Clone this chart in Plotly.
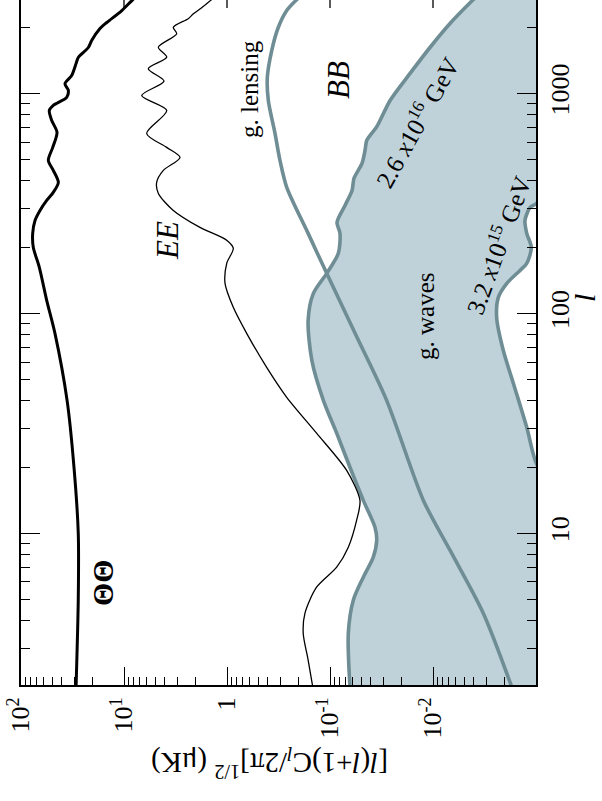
import math
import plotly.graph_objects as go

# ---------------- data (multipole l, amplitude in muK) ----------------
tt_l = [2, 5, 10, 20, 40.2, 81.1, 114.6, 161.9, 199.5, 231, 264.6, 293.8, 326.2, 354.8, 393.6,
        446.7, 495.9, 568.4, 664.8, 753.4, 837, 882, 959, 1032, 1109, 1207, 1368, 1458, 1618,
        1741, 1974, 2102, 2383, 2673, 3000]
tt_p = [29.2, 27.8, 27.8, 30.6, 35.7, 46.8, 56.3, 66.4, 76.0, 77.0, 73.1, 65.4, 56.3, 48.6, 43.4,
        48.6, 54.3, 49.2, 44.7, 50.3, 53.1, 48.6, 36.0, 34.7, 37.4, 32.2, 29.2, 27.8, 22.2,
        20.6, 17.1, 14.7, 10.5, 8.2, 6.25]

ee_l = [2, 2.65, 3.51, 4.33, 5.68, 7.01, 8.64, 11.46, 14.1, 19.3, 28.5, 41.5, 56.8, 81.1, 106.5,
        136.8, 168.7, 197.4, 214.6, 245.9, 293.8, 351, 393.6, 446.7, 511.7, 568.4, 657.7, 837,
        979, 1138, 1295, 1462, 1622, 1866, 2000, 2188, 2301, 2455, 2673, 3000]
ee_p = [0.147, 0.163, 0.182, 0.175, 0.135, 0.0861, 0.0664, 0.0551, 0.0512, 0.0689, 0.135, 0.263,
        0.412, 0.644, 0.869, 1.045, 1.006, 0.869, 1.0, 1.83, 3.32, 4.64, 4.82, 4.15, 2.86, 3.85,
        6.02, 3.85, 6.73, 4.09, 5.81, 3.85, 4.64, 3.08, 3.32, 2.38, 2.12, 1.76, 1.41, 1.12]

lens_l = [2, 4.33, 8.37, 14.1, 40.2, 81.1, 152, 231, 374, 496, 658, 929, 1183, 1567, 1995,
          2383, 2673, 3000]
lens_p = [0.00172, 0.00325, 0.00684, 0.0124, 0.0282, 0.0571, 0.1076, 0.163, 0.263, 0.306, 0.342,
          0.397, 0.406, 0.368, 0.318, 0.263, 0.210, 0.164]

gw_hi_l = [2, 3.51, 4.96, 6.31, 7.78, 9.29, 10.65, 14.1, 19.95, 28.5, 40.2, 61.1, 92.9, 123.3,
           152, 187.5, 231, 259, 309.6, 362, 411, 481, 551, 611, 708, 929, 1233, 1618, 2080,
           2673, 3000]
gw_hi_p = [0.064, 0.0664, 0.0594, 0.0475, 0.038, 0.0352, 0.0366, 0.0475, 0.064, 0.0861, 0.116,
           0.150, 0.163, 0.145, 0.1076, 0.083, 0.080, 0.0855, 0.0715, 0.0611, 0.0585, 0.0489,
           0.0457, 0.044, 0.035, 0.0261, 0.0167, 0.0107, 0.00684, 0.00406, 0.00313]

gw_lo_l = [2, 5, 10, 15, 21.5, 30.3, 48.1, 67.9, 95.9, 118.2, 136.8, 156.7, 168.7, 199.5, 231,
           264.6, 303, 316, 400, 1000, 3000]
gw_lo_p = [0.0009, 0.0006, 0.0005, 0.0007, 0.00102, 0.00123, 0.00166, 0.00208, 0.00241, 0.00232,
           0.00192, 0.00143, 0.00123, 0.00111, 0.00123, 0.00128, 0.00114, 0.00099, 0.0007,
           0.0003, 0.00005]

p_major = [100, 10, 1, 0.1, 0.01]
p_major_text = ["10<sup>2</sup>", "10<sup>1</sup>", "1", "10<sup>-1</sup>", "10<sup>-2</sup>"]
l_major = [10, 100, 1000]
l_major_text = ["10", "100", "1000"]

# ---------------- styling ----------------
SERIF = "Liberation Serif"
GREY = "#6f8d94"
BAND = "#bfd2d9"
W, H = 602, 801
PL, PR, PT, PB = 21, 536, 0, 685


def px(x):
    return (x - PL) / (PR - PL)


def py(y):
    return (PB - y) / (PB - PT)


p_minor = [m * 10 ** e for e in range(-3, 2) for m in range(2, 10)]
l_minor = [m * 10 ** e for e in range(0, 4) for m in range(2, 10)]

fig = go.Figure()

fig.add_trace(go.Scatter(x=gw_lo_p, y=gw_lo_l, mode="lines",
                         line=dict(color=GREY, width=3.6, shape="spline", smoothing=0.8),
                         hoverinfo="skip"))
fig.add_trace(go.Scatter(x=gw_hi_p, y=gw_hi_l, mode="lines", fill="tonextx", fillcolor=BAND,
                         line=dict(color=GREY, width=3.6, shape="spline", smoothing=0.8),
                         hoverinfo="skip"))
fig.add_trace(go.Scatter(x=lens_p, y=lens_l, mode="lines",
                         line=dict(color=GREY, width=3.6, shape="spline", smoothing=0.8),
                         hoverinfo="skip"))
fig.add_trace(go.Scatter(x=ee_p, y=ee_l, mode="lines",
                         line=dict(color="black", width=1.3, shape="spline", smoothing=0.8),
                         hoverinfo="skip"))
fig.add_trace(go.Scatter(x=tt_p, y=tt_l, mode="lines",
                         line=dict(color="black", width=3, shape="spline", smoothing=0.8),
                         hoverinfo="skip"))

fig.update_xaxes(type="log", range=[2, -3], showgrid=False, zeroline=False,
                 showline=True, linecolor="black", linewidth=2, mirror=False,
                 ticks="inside", ticklen=18, tickwidth=1.3, tickcolor="black",
                 tickmode="array", tickvals=p_major, ticktext=p_major_text,
                 tickangle=-90, tickfont=dict(family=SERIF, size=26, color="black"),
                 minor=dict(ticks="inside", ticklen=8, tickwidth=1.3, tickcolor="black",
                            tickmode="array", tickvals=p_minor, showgrid=False))
fig.update_yaxes(type="log", range=[math.log10(2.04), 3.425], side="right",
                 showgrid=False, zeroline=False,
                 showline=True, linecolor="black", linewidth=2, mirror="allticks",
                 ticks="inside", ticklen=19, tickwidth=1.3, tickcolor="black",
                 tickmode="array", tickvals=l_major, ticktext=l_major_text,
                 tickangle=-90, tickfont=dict(family=SERIF, size=26, color="black"),
                 minor=dict(ticks="inside", ticklen=9, tickwidth=1.3, tickcolor="black",
                            tickmode="array", tickvals=l_minor, showgrid=False))

# short tick stubs from the (cropped) top frame
shapes = []
for v in p_major[1:]:
    xp = (2 - math.log10(v)) / 5
    shapes.append(dict(type="line", xref="paper", yref="paper", x0=xp, x1=xp,
                       y0=1, y1=1 - 8 / (PB - PT), line=dict(color="black", width=1.3)))

ann = []


def label(text, x, y, size, angle=-90):
    ann.append(dict(text=text, xref="paper", yref="paper", x=px(x), y=py(y),
                    xanchor="center", yanchor="middle", showarrow=False, textangle=angle,
                    font=dict(family=SERIF, size=size, color="black")))


label("<b>ΘΘ</b>", 102, 583, 30)
label("<i>EE</i>", 168, 241, 31)
label("g. lensing", 249, 89, 25)
label("<i>BB</i>", 339, 80, 31)
label("g. waves", 425, 317, 25)
label("2.6 <i>x</i>10<sup>16</sup> GeV", 416, 122, 25, -61)
label("3.2 <i>x</i>10<sup>15</sup> GeV", 497, 245, 25, -70)
label("<i>l</i>", 584, 298, 30)
label("[<i>l</i>(<i>l</i>+1)C<sub><i>l</i></sub>/2π]<sup>1/2</sup> (μK)", 270, 763, 29, 180)

fig.update_layout(width=W, height=H, margin=dict(l=PL, r=W - PR, t=PT, b=H - PB),
                  paper_bgcolor="white", plot_bgcolor="white", showlegend=False,
                  shapes=shapes, annotations=ann,
                  font=dict(family=SERIF, color="black"))

fig.write_html("out.html")
